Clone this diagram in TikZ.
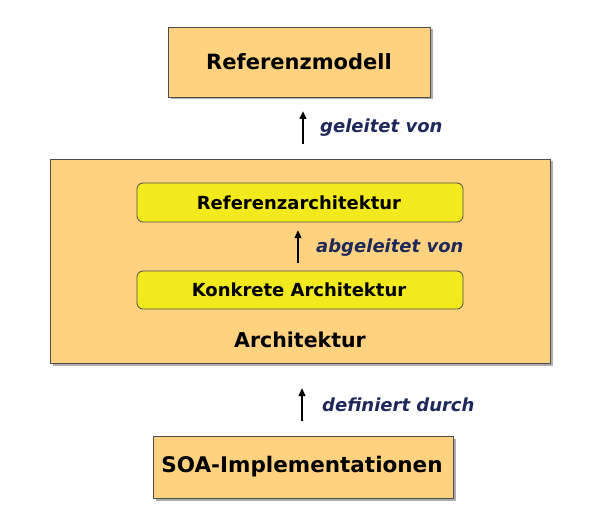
\documentclass[tikz,border=0pt]{standalone}
\usepackage{fontspec}
\setmainfont{DejaVu Sans}
\usetikzlibrary{arrows.meta,shadows}
\definecolor{boxorange}{RGB}{255,210,128}
\definecolor{boxyellow}{RGB}{242,234,28}
\definecolor{labelblue}{RGB}{30,40,90}
\begin{document}
\begin{tikzpicture}[x=1pt,y=-1pt,
  outerbox/.style={draw=black!70,line width=0.8pt,fill=boxorange,
    drop shadow={shadow xshift=2.5pt,shadow yshift=-2.5pt,fill=black!45,opacity=0.7}},
  innerbox/.style={draw=black!70,line width=0.8pt,fill=boxyellow,rounded corners=6pt},
  uparrow/.style={-{Triangle[length=8pt,width=6.5pt]},line width=2pt},
  rel/.style={text=labelblue,font=\bfseries\itshape\fontsize{18}{21}\selectfont,anchor=west,inner sep=0pt}
]
\useasboundingbox (0,0) rectangle (608,524);
% boxes
\path[outerbox] (168,27) rectangle (430,97);
\node (ref) at (299,62) {\bfseries\fontsize{21}{24}\selectfont Referenzmodell};
\path[outerbox] (50,159) rectangle (550,363);
\node (arch) at (300,340) {\bfseries\fontsize{20.5}{24}\selectfont Architektur};
\path[innerbox] (137,183) rectangle (463,222);
\node (rarch) at (299,203) {\bfseries\fontsize{18}{21}\selectfont Referenzarchitektur};
\path[innerbox] (137,271) rectangle (463,309);
\node (karch) at (299,290) {\bfseries\fontsize{18}{21}\selectfont Konkrete Architektur};
\path[outerbox] (153,436) rectangle (453,498);
\node (soa) at (302,467) {\bfseries\fontsize{21.5}{25}\selectfont SOA-Implementationen};
% arrows
\coordinate (a1s) at (303,144); \coordinate (a1e) at (303,111);
\draw[uparrow] (a1s) -- (a1e);
\node[rel] (l1) at (320,128) {geleitet von};
\coordinate (a2s) at (298,263); \coordinate (a2e) at (298,230);
\draw[uparrow] (a2s) -- (a2e);
\node[rel] (l2) at (316,248) {abgeleitet von};
\coordinate (a3s) at (302,421); \coordinate (a3e) at (302,388);
\draw[uparrow] (a3s) -- (a3e);
\node[rel] (l3) at (322,405) {definiert durch};
\end{tikzpicture}
\end{document}
